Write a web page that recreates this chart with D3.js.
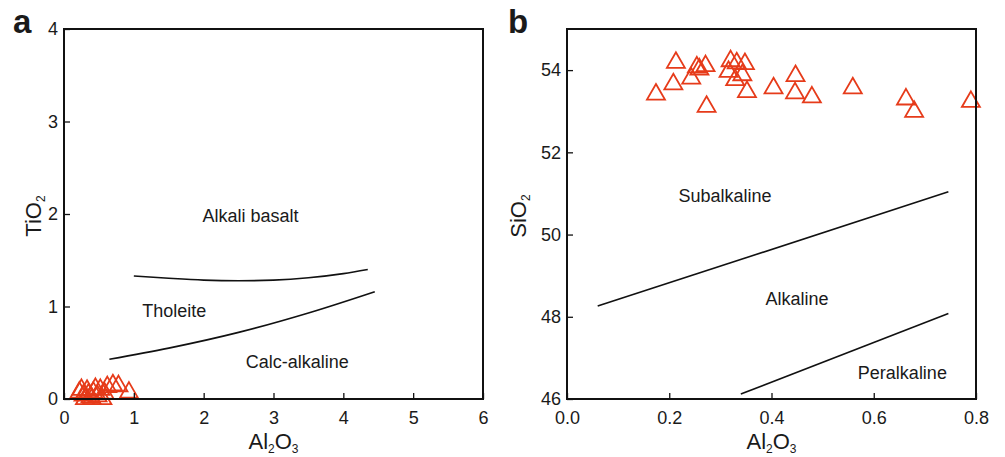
<!DOCTYPE html>
<html><head><meta charset="utf-8">
<script src="https://cdn.jsdelivr.net/npm/d3@7"></script>
<style>body{margin:0;background:#fff}svg{display:block}text{font-family:Arial,"Liberation Sans",sans-serif;fill:#1a1a1a}</style>
</head><body><svg width="1005" height="457"></svg>
<script>
// ---- Panel a data ----
const aXTicks = [0, 1, 2, 3, 4, 5, 6];
const aYTicks = [0, 1, 2, 3, 4];
const aAl2O3 = [0.22, 0.28, 0.33, 0.38, 0.42, 0.48, 0.52, 0.58, 0.62, 0.7, 0.78, 0.93, 0.3, 0.4, 0.25, 0.45, 0.35, 0.55];
const aTiO2  = [0.07, 0.04, 0.09, 0.02, 0.07, 0.03, 0.1, 0.06, 0.13, 0.15, 0.14, 0.07, 0.0, 0.0, 0.1, 0.11, 0.05, 0.0];
const aUpperX = [1.0, 1.5, 2.0, 2.5, 3.0, 3.5, 4.0, 4.35];
const aUpperY = [1.33, 1.305, 1.285, 1.278, 1.285, 1.31, 1.355, 1.40];
const aLowerX = [0.65, 1.5, 2.5, 3.5, 4.45];
const aLowerY = [0.43, 0.55, 0.72, 0.93, 1.16];
const aFieldNames = ["Alkali basalt", "Tholeite", "Calc-alkaline"];
const aFieldX = [2.67, 1.58, 3.34];
const aFieldY = [1.97, 0.94, 0.39];

// ---- Panel b data ----
const bXTicks = [0.0, 0.2, 0.4, 0.6, 0.8];
const bYTicks = [46, 48, 50, 52, 54];
const bAl2O3 = [0.174, 0.208, 0.213, 0.243, 0.254, 0.259, 0.271, 0.273, 0.32, 0.316, 0.332, 0.343, 0.329, 0.348, 0.352, 0.404, 0.447, 0.446, 0.479, 0.559, 0.663, 0.679, 0.79];
const bSiO2  = [53.41, 53.66, 54.18, 53.80, 54.07, 54.02, 54.10, 53.11, 54.22, 53.96, 54.17, 53.88, 53.76, 54.15, 53.47, 53.56, 53.86, 53.44, 53.34, 53.56, 53.29, 52.99, 53.23];
const bUpperX = [0.06, 0.746];
const bUpperY = [48.26, 51.04];
const bLowerX = [0.34, 0.746];
const bLowerY = [46.12, 48.08];
const bFieldNames = ["Subalkaline", "Alkaline", "Peralkaline"];
const bFieldX = [0.309, 0.45, 0.656];
const bFieldY = [50.91, 48.41, 46.61];

const svg = d3.select("svg");
svg.append("rect").attr("width",1005).attr("height",457).attr("fill","#fff");
const red = "#e63b1a";
const triPath = "M0,-10.4L9,5.2L-9,5.2Z";

function subLabel(g, x, y, parts, rotate) {
  const t = g.append("text").attr("text-anchor","middle").attr("font-size",22)
    .attr("transform", `translate(${x},${y})` + (rotate ? " rotate(-90)" : ""));
  parts.forEach(p => {
    if (p.sub) {
      t.append("tspan").text(p.t).attr("font-size",12).attr("dy",4);
    } else {
      t.append("tspan").text(p.t).attr("dy", p.after ? -4 : 0);
    }
  });
}

function panel(opts) {
  const {left, right, top, bottom, xDom, yDom, xTicks, yTicks, xFmt, yFmt, xs, ys,
         lines, fieldNames, fieldX, fieldY, letter, letterX, yTitle, yTitleX} = opts;
  const x = d3.scaleLinear().domain(xDom).range([left, right]);
  const y = d3.scaleLinear().domain(yDom).range([bottom, top]);
  const g = svg.append("g");

  const line = d3.line().x(d => x(d[0])).y(d => y(d[1])).curve(d3.curveMonotoneX);
  lines.forEach(([lx, ly]) => {
    g.append("path").datum(lx.map((v,i)=>[v, ly[i]])).attr("d", line)
      .attr("fill","none").attr("stroke","#111").attr("stroke-width",1.6);
  });

  fieldNames.forEach((n,i) => {
    g.append("text").attr("x", x(fieldX[i])).attr("y", y(fieldY[i])).attr("text-anchor","middle")
      .attr("dominant-baseline","middle").attr("font-size",18).text(n);
  });

  g.append("g").selectAll("path").data(xs.map((v,i)=>[v, ys[i]])).join("path")
    .attr("d", triPath).attr("transform", d => `translate(${x(d[0])},${y(d[1])})`)
    .attr("fill","none").attr("stroke", red).attr("stroke-width",1.8);

  const xAxis = d3.axisBottom(x).tickValues(xTicks).tickSize(-6).tickPadding(12).tickFormat(xFmt);
  const gx = g.append("g").attr("transform", `translate(0,${bottom})`).call(xAxis);
  const yAxis = d3.axisLeft(y).tickValues(yTicks).tickSize(-6).tickPadding(6).tickFormat(yFmt);
  const gy = g.append("g").attr("transform", `translate(${left},0)`).call(yAxis);
  [gx, gy].forEach(a => {
    a.select(".domain").remove();
    a.selectAll(".tick line").attr("stroke","#111").attr("stroke-width",1.3);
    a.selectAll(".tick text").attr("font-size",18).attr("fill","#1a1a1a").attr("font-family","Arial, 'Liberation Sans', sans-serif");
  });

  g.append("rect").attr("x",left).attr("y",top).attr("width",right-left).attr("height",bottom-top)
    .attr("fill","none").attr("stroke","#111").attr("stroke-width",2);

  g.append("text").attr("x", letterX).attr("y", 33).attr("font-size",33).attr("font-weight","bold").text(letter);

  subLabel(g, (left+right)/2, 449, [{t:"Al"},{t:"2",sub:true},{t:"O",after:true},{t:"3",sub:true}], false);
  subLabel(g, yTitleX, (top+bottom)/2 + 2, [{t:yTitle[0]},{t:"2",sub:true}], true);
}

panel({left:64, right:483, top:29, bottom:399, xDom:[0,6], yDom:[0,4], xTicks:aXTicks, yTicks:aYTicks,
  xFmt:d3.format("d"), yFmt:d3.format("d"), xs:aAl2O3, ys:aTiO2, lines:[[aUpperX,aUpperY],[aLowerX,aLowerY]],
  fieldNames:aFieldNames, fieldX:aFieldX, fieldY:aFieldY, letter:"a", letterX:13, yTitle:["TiO"], yTitleX:41});
panel({left:567, right:976, top:29, bottom:399, xDom:[0,0.8], yDom:[46,55], xTicks:bXTicks, yTicks:bYTicks,
  xFmt:d3.format(".1f"), yFmt:d3.format("d"), xs:bAl2O3, ys:bSiO2, lines:[[bUpperX,bUpperY],[bLowerX,bLowerY]],
  fieldNames:bFieldNames, fieldX:bFieldX, fieldY:bFieldY, letter:"b", letterX:508, yTitle:["SiO"], yTitleX:526});
</script></body></html>
